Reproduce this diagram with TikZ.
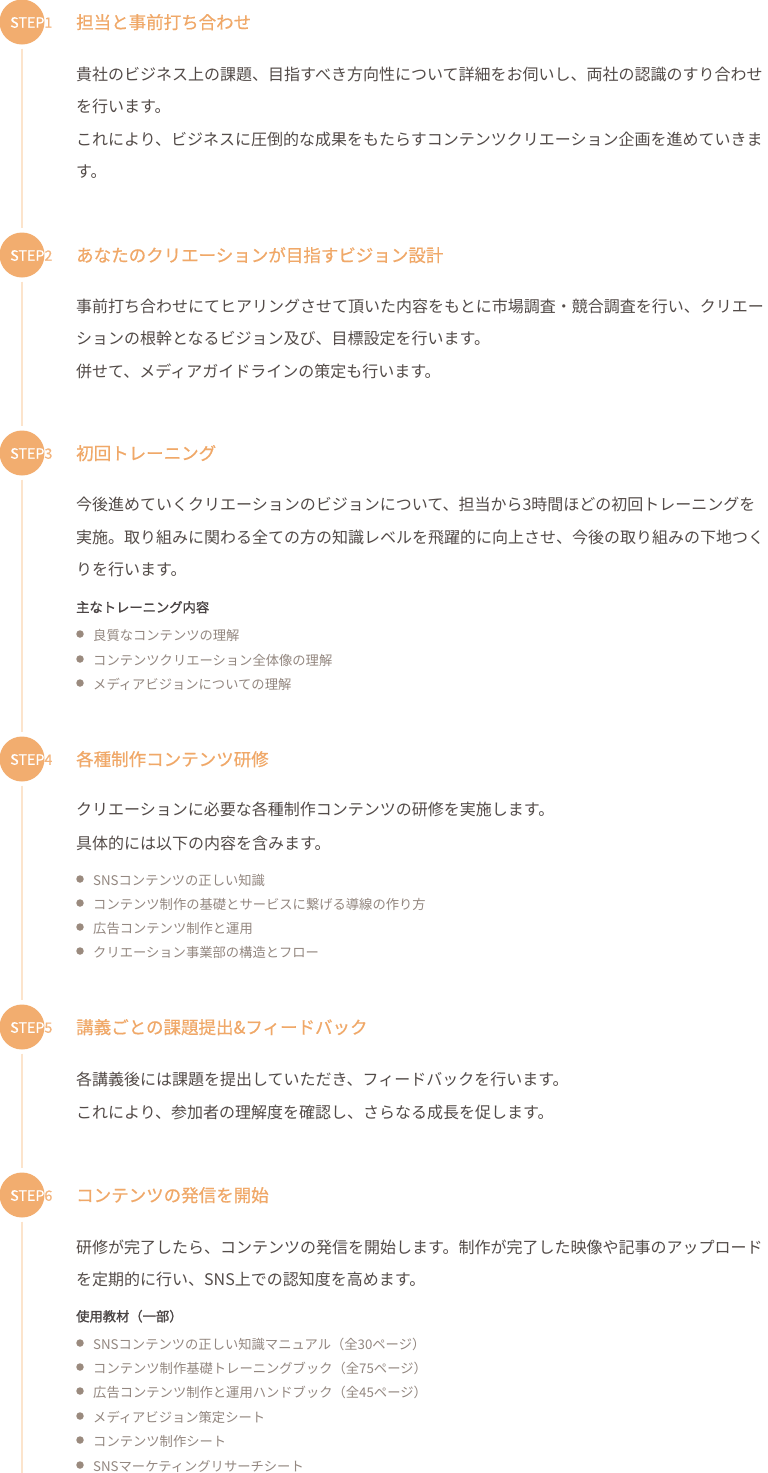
\documentclass[tikz,border=0pt]{standalone}
\usepackage{fontspec}
\setmainfont{Noto Sans CJK JP}
\newfontfamily\jpmed[FakeBold=0.5]{Noto Sans CJK JP}
\newfontfamily\jpsub[FakeBold=1.2]{Noto Sans CJK JP}
\definecolor{circor}{HTML}{F2AD6F}
\definecolor{digor}{HTML}{F3B47C}
\definecolor{titleor}{HTML}{F0A868}
\definecolor{bodyc}{HTML}{534B48}
\definecolor{subc}{HTML}{4A4444}
\definecolor{bulc}{HTML}{938780}
\definecolor{dotc}{HTML}{9A8A7E}
\definecolor{linec}{HTML}{FCE4CC}
\tikzset{
  stepcirc/.style={circle,fill=circor,minimum size=45pt,inner sep=0pt},
  steplab/.style={anchor=west,inner sep=0pt,yshift=-0.5pt,font=\jpmed\fontsize{14.3}{16}\selectfont},
  ttl/.style={anchor=west,inner sep=0pt,yshift=-3pt,text=titleor,font=\jpmed\fontsize{17.5}{20}\selectfont,text height=0.88em,text depth=0.12em},
  bodyl/.style={anchor=west,inner sep=0pt,yshift=-2pt,text=bodyc,font=\fontsize{16}{18}\selectfont,text height=0.88em,text depth=0.12em},
  subl/.style={anchor=west,inner sep=0pt,yshift=-2.5pt,text=subc,font=\jpsub\fontsize{13.3}{15}\selectfont,text height=0.88em,text depth=0.12em},
  bull/.style={anchor=west,inner sep=0pt,yshift=-2.5pt,text=bulc,font=\fontsize{13.3}{15}\selectfont,text height=0.88em,text depth=0.12em},
  bdot/.style={circle,fill=dotc,minimum size=7.5pt,inner sep=0pt},
  vline/.style={draw=linec,line width=2pt}
}
\newcommand{\stepmark}[3]{%
  \node[stepcirc] (s#1) at (22,#2) {};
  \node[steplab] (sl#1) at (10,#2) {\textcolor{white}{STEP}\textcolor{digor}{#3}};
}
\newcommand{\bitem}[3]{%
  \node[bdot] (d#1) at (80,#2) {};
  \node[bull] (b#1) at (93,#2) {#3};
}
\begin{document}
\begin{tikzpicture}[x=1pt,y=-1pt]
\useasboundingbox (0,0) rectangle (768,1473);
\fill[white] (0,0) rectangle (768,1473);
% step circles
\stepmark{1}{22}{1}
\stepmark{2}{255}{2}
\stepmark{3}{453}{3}
\stepmark{4}{759}{4}
\stepmark{5}{1027}{5}
\stepmark{6}{1195}{6}
\coordinate (lend) at (22,1473);
% connectors
\draw[vline] ([yshift=-4pt]s1.south) -- ([yshift=4pt]s2.north);
\draw[vline] ([yshift=-4pt]s2.south) -- ([yshift=4pt]s3.north);
\draw[vline] ([yshift=-4pt]s3.south) -- ([yshift=4pt]s4.north);
\draw[vline] ([yshift=-4pt]s4.south) -- ([yshift=4pt]s5.north);
\draw[vline] ([yshift=-4pt]s5.south) -- ([yshift=4pt]s6.north);
\draw[vline] ([yshift=-4pt]s6.south) -- (lend);
% step 1
\node[ttl] (t1) at (76,22) {担当と事前打ち合わせ};
\node[bodyl] (p1a) at (76,75) {貴社のビジネス上の課題、目指すべき方向性について詳細をお伺いし、両社の認識のすり合わせ};
\node[bodyl] (p1b) at (76,107) {を行います。};
\node[bodyl] (p1c) at (76,140) {これにより、ビジネスに圧倒的な成果をもたらすコンテンツクリエーション企画を進めていきま};
\node[bodyl] (p1d) at (76,172) {す。};
% step 2
\node[ttl] (t2) at (76,255) {あなたのクリエーションが目指すビジョン設計};
\node[bodyl] (p2a) at (76,307) {事前打ち合わせにてヒアリングさせて頂いた内容をもとに市場調査・競合調査を行い、クリエー};
\node[bodyl] (p2b) at (76,339) {ションの根幹となるビジョン及び、目標設定を行います。};
\node[bodyl] (p2c) at (76,372) {併せて、メディアガイドラインの策定も行います。};
% step 3
\node[ttl] (t3) at (76,453) {初回トレーニング};
\node[bodyl] (p3a) at (76,505) {今後進めていくクリエーションのビジョンについて、担当から3時間ほどの初回トレーニングを};
\node[bodyl] (p3b) at (76,538) {実施。取り組みに関わる全ての方の知識レベルを飛躍的に向上させ、今後の取り組みの下地つく};
\node[bodyl] (p3c) at (76,570) {りを行います。};
\node[subl] (h3) at (76,606) {主なトレーニング内容};
\bitem{3a}{634}{良質なコンテンツの理解}
\bitem{3b}{659}{コンテンツクリエーション全体像の理解}
\bitem{3c}{683}{メディアビジョンについての理解}
% step 4
\node[ttl] (t4) at (76,759) {各種制作コンテンツ研修};
\node[bodyl] (p4a) at (76,810) {クリエーションに必要な各種制作コンテンツの研修を実施します。};
\node[bodyl] (p4b) at (76,844) {具体的には以下の内容を含みます。};
\bitem{4a}{879}{SNSコンテンツの正しい知識}
\bitem{4b}{903}{コンテンツ制作の基礎とサービスに繋げる導線の作り方}
\bitem{4c}{927}{広告コンテンツ制作と運用}
\bitem{4d}{951}{クリエーション事業部の構造とフロー}
% step 5
\node[ttl] (t5) at (76,1027) {講義ごとの課題提出\&フィードバック};
\node[bodyl] (p5a) at (76,1080) {各講義後には課題を提出していただき、フィードバックを行います。};
\node[bodyl] (p5b) at (76,1113) {これにより、参加者の理解度を確認し、さらなる成長を促します。};
% step 6
\node[ttl] (t6) at (76,1195) {コンテンツの発信を開始};
\node[bodyl] (p6a) at (76,1248) {研修が完了したら、コンテンツの発信を開始します。制作が完了した映像や記事のアップロード};
\node[bodyl] (p6b) at (76,1280) {を定期的に行い、SNS上での認知度を高めます。};
\node[subl] (h6) at (76,1315) {使用教材（一部）};
\bitem{6a}{1343}{SNSコンテンツの正しい知識マニュアル（全30ページ）}
\bitem{6b}{1367}{コンテンツ制作基礎トレーニングブック（全75ページ）}
\bitem{6c}{1391}{広告コンテンツ制作と運用ハンドブック（全45ページ）}
\bitem{6d}{1416}{メディアビジョン策定シート}
\bitem{6e}{1440}{コンテンツ制作シート}
\bitem{6f}{1465}{SNSマーケティングリサーチシート}
\end{tikzpicture}
\end{document}
